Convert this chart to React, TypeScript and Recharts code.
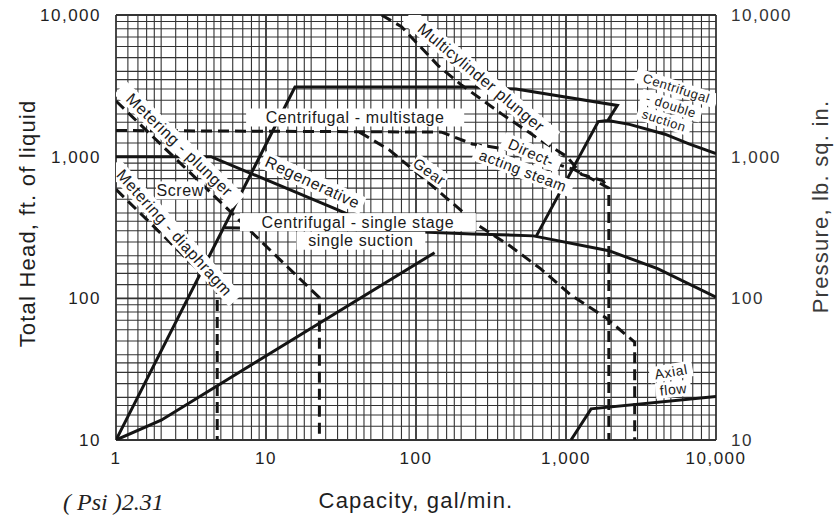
import {
  ComposedChart,
  Line,
  Scatter,
  XAxis,
  YAxis,
  ReferenceLine,
} from "recharts"

const FONT = '"Liberation Sans", Arial, Helvetica, sans-serif'

const capacityTicks = [1, 10, 100, 1000, 10000]
const headTicks = [10, 100, 1000, 10000]
const pressureTicks = [10, 100, 1000, 10000]

// rulings of the log paper inside one decade
const xRulings = [1, 1.2, 1.4, 1.6, 1.8, 2, 2.5, 3, 3.5, 4, 4.5, 5, 6, 7, 8, 9]
const yRulings = [1, 1.25, 1.5, 1.75, 2, 2.5, 3, 3.5, 4, 5, 6, 7, 8, 9]
const xDecades = [1, 10, 100, 1000]
const yDecades = [10, 100, 1000]

// pump coverage boundaries (capacity gal/min, head ft)
const centrifugalMultistage = [
  { x: 1, y: 10 }, { x: 15.6, y: 3100 }, { x: 237, y: 3100 }, { x: 464, y: 3000 },
  { x: 2200, y: 2300 }, { x: 1900, y: 1800 }, { x: 1640, y: 1770 }, { x: 635, y: 276 },
]
const centrifugalDouble = [
  { x: 1900, y: 1800 }, { x: 2650, y: 1690 }, { x: 4570, y: 1440 }, { x: 6600, y: 1230 }, { x: 10000, y: 1050 },
]
const centrifugalSingle = [
  { x: 5.3, y: 315 }, { x: 24, y: 305 }, { x: 69, y: 300 }, { x: 237, y: 285 },
  { x: 606, y: 276 }, { x: 1930, y: 217 }, { x: 4080, y: 162 }, { x: 10000, y: 102 },
]
const singleSuction = [{ x: 1, y: 10 }, { x: 2, y: 13.8 }, { x: 133, y: 210 }]
const regenerative = [{ x: 1, y: 1000 }, { x: 4.3, y: 1000 }, { x: 29.6, y: 425 }, { x: 63, y: 300 }]
const axialFlow = [{ x: 1080, y: 10 }, { x: 1470, y: 16.6 }, { x: 10000, y: 20.3 }]

const meteringPlunger = [{ x: 1, y: 2470 }, { x: 22.7, y: 101 }, { x: 22.7, y: 10 }]
const meteringDiaphragm = [{ x: 1, y: 587 }, { x: 4.73, y: 117 }, { x: 4.73, y: 10 }]
const directActing = [
  { x: 1, y: 1530 }, { x: 148, y: 1490 }, { x: 237, y: 1230 }, { x: 422, y: 1120 },
  { x: 1140, y: 810 }, { x: 1930, y: 600 }, { x: 1930, y: 10 },
]
const multicylinder = [
  { x: 59, y: 10000 }, { x: 80, y: 8270 }, { x: 141, y: 4380 }, { x: 202, y: 3190 },
  { x: 378, y: 1980 }, { x: 676, y: 1310 }, { x: 1016, y: 1000 }, { x: 1270, y: 748 },
  { x: 1750, y: 679 }, { x: 1930, y: 600 },
]
const gear = [
  { x: 42, y: 1490 }, { x: 66, y: 1120 }, { x: 103, y: 760 }, { x: 155, y: 525 },
  { x: 264, y: 324 }, { x: 422, y: 235 }, { x: 676, y: 162 }, { x: 1083, y: 105 },
  { x: 1840, y: 73 }, { x: 2870, y: 49 }, { x: 2870, y: 10 },
]

// region names written on the chart
const regionLabels = [
  { x: 272, y: 3620, text: "Multicylinder plunger", angle: 40, size: 16 },
  { x: 39.3, y: 1890, text: "Centrifugal - multistage", angle: 0, size: 16 },
  { x: 2.65, y: 1210, text: "Metering - plunger", angle: 44, size: 16 },
  { x: 2.45, y: 290, text: "Metering - diaphragm", angle: 48, size: 16 },
  { x: 2.68, y: 578, text: "Screw", angle: 0, size: 16 },
  { x: 20.4, y: 657, text: "Regenerative", angle: 25, size: 16 },
  { x: 41, y: 345, text: "Centrifugal - single stage", angle: 0, size: 16 },
  { x: 42.9, y: 255, text: "single suction", angle: 0, size: 16 },
  { x: 123, y: 785, text: "Gear", angle: 35, size: 15 },
  { x: 587, y: 1067, text: "Direct-", angle: 24, size: 15 },
  { x: 518, y: 798, text: "acting steam", angle: 21, size: 15 },
  { x: 5440, y: 3040, text: "Centrifugal", angle: 18, size: 13 },
  { x: 5020, y: 2290, text: "- double", angle: 18, size: 13 },
  { x: 4500, y: 1800, text: "suction", angle: 18, size: 13 },
  { x: 5020, y: 30.3, text: "Axial", angle: -10, size: 14 },
  { x: 5190, y: 22.8, text: "flow", angle: -6, size: 14 },
]

const solidCurves = [centrifugalMultistage, centrifugalDouble, centrifugalSingle, singleSuction, regenerative, axialFlow]
const dashedCurves = [meteringPlunger, meteringDiaphragm, directActing, multicylinder, gear]

const gridX = [...xDecades.flatMap((d) => xRulings.map((r) => r * d)), 10000]
const gridY = [...yDecades.flatMap((d) => yRulings.map((r) => r * d)), 10000]

const fmt = (v: number) => v.toLocaleString("en-US")

const tickText = { fontFamily: FONT, fontSize: 17, fill: "#1e1e1e", letterSpacing: 1.5 }
const titleText = { fontFamily: FONT, fontSize: 22, fill: "#1e1e1e", letterSpacing: 1.2 }

function CapacityTick({ x, y, payload }: any) {
  return (
    <text x={x} y={y} dy={12} textAnchor="middle" style={tickText}>
      {fmt(payload.value)}
    </text>
  )
}

function HeadTick({ x, y, payload }: any) {
  return (
    <text x={x} y={y} dy={6} textAnchor="end" style={tickText}>
      {fmt(payload.value)}
    </text>
  )
}

function PressureTick({ x, y, payload }: any) {
  return (
    <text x={x} y={y} dy={6} textAnchor="start" style={{ ...tickText, fill: "#333" }}>
      {fmt(payload.value)}
    </text>
  )
}

const sideTitle = (value: string, fromLeft: number, lift: number, fill: string) => ({
  value,
  content: ({ viewBox }: any) => {
    const cx = viewBox.x + fromLeft
    const cy = viewBox.y + viewBox.height / 2 - lift
    return (
      <text
        transform={`translate(${cx},${cy}) rotate(-90)`}
        textAnchor="middle"
        dominantBaseline="central"
        style={{ ...titleText, fill }}
      >
        {value}
      </text>
    )
  },
})

function RegionLabel(props: any) {
  const { cx, cy, payload } = props
  const { text, angle, size } = payload
  const w = text.length * size * 0.52 + text.length * 0.6 + 4
  const h = size + 2
  return (
    <g transform={`translate(${cx},${cy}) rotate(${angle})`}>
      <rect x={-w / 2} y={-h / 2} width={w} height={h} fill="#fff" />
      <text
        textAnchor="middle"
        dominantBaseline="central"
        style={{ fontFamily: FONT, fontSize: size, fill: "#1a1a1a", letterSpacing: 0.6 }}
      >
        {text}
      </text>
    </g>
  )
}

export default function App() {
  return (
    <div
      style={{
        position: "absolute",
        left: 0,
        top: 0,
        width: 837,
        height: 517,
        background: "#fff",
        overflow: "hidden",
      }}
    >
      <ComposedChart width={837} height={517} margin={{ top: 15, right: 0, bottom: 0, left: 0 }}>
        <XAxis
          dataKey="x"
          type="number"
          scale="log"
          domain={[1, 10000]}
          ticks={capacityTicks}
          interval={0}
          allowDataOverflow
          axisLine={false}
          tickLine={false}
          tickMargin={6}
          height={77}
          tick={<CapacityTick />}
          label={{
            value: "Capacity, gal/min.",
            position: "insideBottom",
            offset: 9,
            style: titleText,
          }}
        />
        <YAxis
          yAxisId="head"
          type="number"
          scale="log"
          domain={[10, 10000]}
          ticks={headTicks}
          interval={0}
          allowDataOverflow
          axisLine={false}
          tickLine={false}
          tickMargin={9}
          width={116}
          tick={<HeadTick />}
          label={sideTitle("Total Head, ft. of liquid", 27, 4, "#1e1e1e")}
        />
        <YAxis
          yAxisId="pressure"
          orientation="right"
          type="number"
          scale="log"
          domain={[10, 10000]}
          ticks={pressureTicks}
          interval={0}
          allowDataOverflow
          axisLine={false}
          tickLine={false}
          tickMargin={9}
          width={121}
          tick={<PressureTick />}
          label={sideTitle("Pressure, lb. sq. in.", 104, 21, "#3a3a3a")}
        />

        {gridX.map((v, i) => (
          <ReferenceLine
            key={`gx${i}`}
            x={v}
            yAxisId="head"
            stroke="#333"
            strokeWidth={capacityTicks.includes(v) ? 1.8 : 1.1}
          />
        ))}
        {gridY.map((v, i) => (
          <ReferenceLine
            key={`gy${i}`}
            y={v}
            yAxisId="head"
            stroke="#333"
            strokeWidth={headTicks.includes(v) ? 1.8 : 1.1}
          />
        ))}

        {solidCurves.map((d, i) => (
          <Line
            key={`s${i}`}
            data={d}
            dataKey="y"
            yAxisId="head"
            type="linear"
            stroke="#141414"
            strokeWidth={3}
            dot={false}
            activeDot={false}
            isAnimationActive={false}
          />
        ))}
        {dashedCurves.map((d, i) => (
          <Line
            key={`d${i}`}
            data={d}
            dataKey="y"
            yAxisId="head"
            type="linear"
            stroke="#141414"
            strokeWidth={3}
            strokeDasharray="11 6"
            dot={false}
            activeDot={false}
            isAnimationActive={false}
          />
        ))}

        <Scatter
          data={regionLabels}
          dataKey="y"
          yAxisId="head"
          shape={RegionLabel}
          isAnimationActive={false}
        />
      </ComposedChart>
      <div
        style={{
          position: "absolute",
          left: 63,
          top: 489,
          fontFamily: '"Liberation Serif", serif',
          fontStyle: "italic",
          fontSize: 24,
          lineHeight: "26px",
          color: "#222",
          whiteSpace: "pre",
        }}
      >
        ( Psi )2.31
      </div>
    </div>
  )
}
